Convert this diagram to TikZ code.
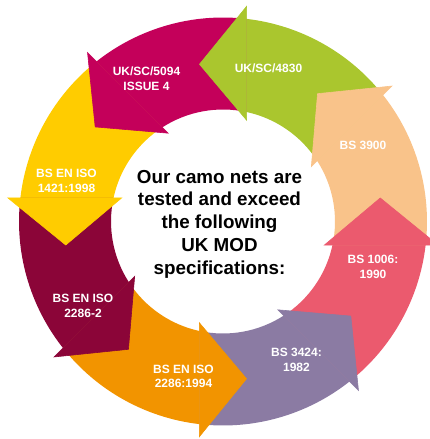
\documentclass[tikz,border=0pt]{standalone}
\usepackage{fontspec}
\setmainfont{Liberation Sans}
\usetikzlibrary{calc}
\definecolor{cGreen}{RGB}{170,198,46}
\definecolor{cMagenta}{RGB}{196,0,90}
\definecolor{cYellow}{RGB}{255,204,0}
\definecolor{cMaroon}{RGB}{139,5,56}
\definecolor{cOrange}{RGB}{242,148,0}
\definecolor{cPurple}{RGB}{139,123,163}
\definecolor{cRed}{RGB}{235,90,110}
\definecolor{cPeach}{RGB}{249,195,138}
\begin{document}
\begin{tikzpicture}[x=1pt,y=1pt,
  lbl/.style={text=white, font=\bfseries\fontsize{12}{14.5}\selectfont, align=center, inner sep=0pt},
  ctr/.style={text=black, font=\bfseries\fontsize{18.8}{22.8}\selectfont, align=center, inner sep=0pt},
  arrowhead/.style={line width=0.6pt, line join=miter}]
\useasboundingbox (0,0) rectangle (430,439);
\begin{scope}[shift={(223,217.5)}]
  % ring bodies
  \foreach \b/\c in {81.5/cGreen,126.5/cMagenta,171.5/cYellow,216.5/cMaroon,261.5/cOrange,306.5/cPurple,351.5/cRed,396.5/cPeach}{
    \fill[\c] (\b-43.16:204pt) arc[start angle=\b-43.16, end angle=\b+1.84, radius=204pt]
      -- (\b-3.69:112pt) arc[start angle=\b-3.69, end angle=\b-48.69, radius=112pt] -- cycle;
  }
  % arrow heads
  \foreach \b/\c in {81.5/cGreen,126.5/cMagenta,171.5/cYellow,216.5/cMaroon,261.5/cOrange,306.5/cPurple,351.5/cRed,396.5/cPeach}{
    \filldraw[arrowhead, fill=\c, draw=\c] (\b+17:159pt) -- (\b+2.23:216.5pt) -- (\b-4.65:104pt) -- cycle;
  }
\end{scope}
\node[lbl] (lgreen) at (268.5,371) {UK/SC/4830};
\node[lbl] (lmagenta) at (146.5,360.5) {UK/SC/5094\\ISSUE 4};
\node[lbl] (lyellow) at (66.5,258) {BS EN ISO\\1421:1998};
\node[lbl] (lmaroon) at (83,133) {BS EN ISO\\2286-2};
\node[lbl] (lorange) at (183.5,62.5) {BS EN ISO\\2286:1994};
\node[lbl] (lpurple) at (296.5,79) {BS 3424:\\1982};
\node[lbl] (lred) at (373,172) {BS 1006:\\1990};
\node[lbl] (lpeach) at (363,294) {BS 3900};
\node[ctr] (centre) at (219.5,215) {Our camo nets are\\tested and exceed\\the following\\UK MOD\\specifications:};
\end{tikzpicture}
\end{document}
